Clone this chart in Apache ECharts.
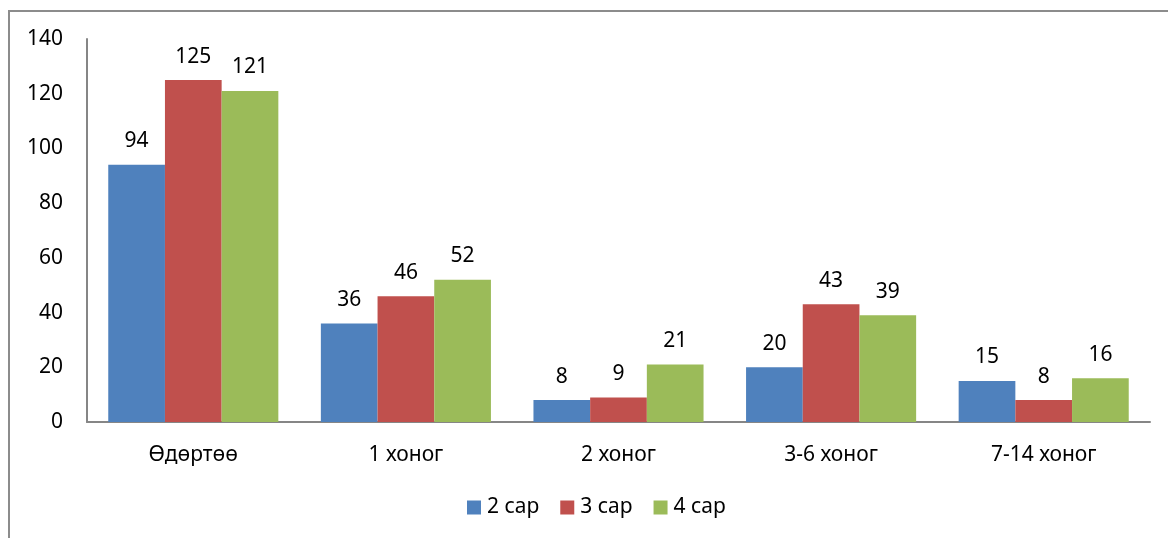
<!DOCTYPE html>
<html><head><meta charset="utf-8">
<script src="https://cdn.jsdelivr.net/npm/echarts@6/dist/echarts.min.js"></script>
<style>html,body{margin:0;padding:0;background:#fff}#c{width:1168px;height:538px}</style>
</head><body><div id="c"></div>
<script>
var categories = ['Өдөртөө', '1 хоног', '2 хоног', '3-6 хоног', '7-14 хоног'];
var seriesNames = ['2 сар', '3 сар', '4 сар'];
var s2 = [94, 36, 8, 20, 15];
var s3 = [125, 46, 9, 43, 8];
var s4 = [121, 52, 21, 39, 16];
var colors = ['#4F81BD', '#C0504D', '#9BBB59'];
var FONT = 'Noto Sans';
var chart = echarts.init(document.getElementById('c'));
function mk(name, data, color) {
  return {
    name: name, type: 'bar', data: data, barGap: '0%', barCategoryGap: '20%',
    itemStyle: { color: color },
    label: { show: true, position: 'top', distance: 13, color: '#000', fontFamily: FONT, fontSize: 21 }
  };
}
chart.setOption({
  animation: false,
  graphic: [{ type: 'rect', shape: { x: 9, y: 11, width: 1300, height: 700 }, style: { fill: 'none', stroke: '#8c8c8c', lineWidth: 2 }, silent: true }],
  grid: { left: 87, right: 18, top: 39, bottom: 116, containLabel: false },
  legend: {
    bottom: 15, left: 462, itemWidth: 14, itemHeight: 14, itemGap: 21,
    icon: 'rect',
    textStyle: { fontFamily: FONT, fontSize: 21, color: '#000', padding: [0, 0, 0, 1] },
    data: seriesNames
  },
  xAxis: {
    type: 'category', data: categories,
    axisLine: { lineStyle: { color: '#868686', width: 2 } },
    axisTick: { show: false },
    axisLabel: { color: '#000', fontFamily: FONT, fontSize: 21, margin: 23 }
  },
  yAxis: {
    type: 'value', min: 0, max: 140, interval: 20,
    axisLine: { show: true, lineStyle: { color: '#868686', width: 2 } },
    axisTick: { show: false },
    splitLine: { show: false },
    axisLabel: { color: '#000', fontFamily: FONT, fontSize: 21, margin: 24 }
  },
  series: [mk(seriesNames[0], s2, colors[0]), mk(seriesNames[1], s3, colors[1]), mk(seriesNames[2], s4, colors[2])]
});
</script></body></html>
